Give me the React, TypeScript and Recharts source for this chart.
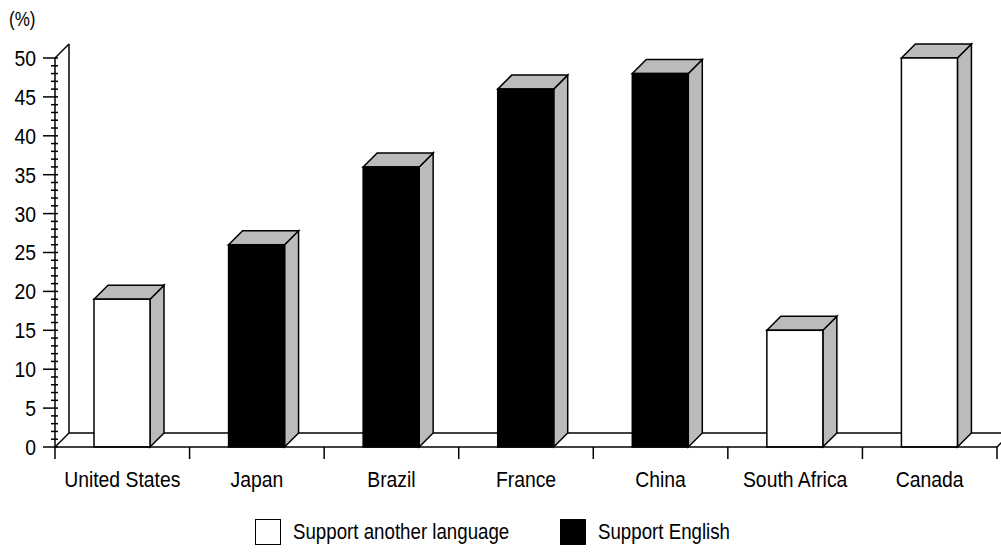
import React from 'react';
import { BarChart, Bar, XAxis, YAxis, Legend } from 'recharts';

const countries = ['United States', 'Japan', 'Brazil', 'France', 'China', 'South Africa', 'Canada'];
const values = [19, 26, 36, 46, 48, 15, 50];
const groups = ['another', 'english', 'english', 'english', 'english', 'another', 'another'];
const seriesNames = ['Support another language', 'Support English'];
const majorTicks = [0, 5, 10, 15, 20, 25, 30, 35, 40, 45, 50];
const allTicks = Array.from({ length: 51 }, (_, i) => i);

const data = countries.map((country, i) => ({ country, value: values[i], group: groups[i] }));

const W = 1001;
const H = 559;
const M = { top: 58, right: 4, left: 0, bottom: 7 };
const Y_W = 55;
const X_H = 65;
const LEG_H = 40;
const PL = M.left + Y_W;
const PR = W - M.right;
const PT = M.top;
const PB = H - M.bottom - LEG_H - X_H;
const D = 14;
const GRAY = '#bbbbbb';
const FONT = '"Liberation Sans", Arial, Helvetica, sans-serif';
const FS = 22;
const SX = 0.88; // condensed look

const Bar3D = (props: any) => {
  const { x, y, width: w, height: h, payload } = props;
  if (!h) return null;
  const fill = payload.group === 'english' ? '#000' : '#fff';
  return (
    <g stroke="#000" strokeWidth={1.5} strokeLinejoin="miter">
      <polygon
        points={`${x + w},${y} ${x + w + D},${y - D} ${x + w + D},${y + h - D} ${x + w},${y + h}`}
        fill={GRAY}
      />
      <polygon points={`${x},${y} ${x + D},${y - D} ${x + w + D},${y - D} ${x + w},${y}`} fill={GRAY} />
      <rect x={x} y={y} width={w} height={h} fill={fill} />
    </g>
  );
};

const YTick = (props: any) => {
  const { y, payload } = props;
  const major = majorTicks.includes(payload.value);
  return (
    <g>
      <line x1={major ? PL - 12 : PL - 4} x2={PL + 3} y1={y} y2={y} stroke="#000" strokeWidth={1.5} />
      {major && (
        <text
          transform={`translate(${PL - 19},${y}) scale(${SX},1)`}
          dy="0.36em"
          textAnchor="end"
          fontSize={FS}
          fontFamily={FONT}
          fill="#000"
        >
          {payload.value}
        </text>
      )}
    </g>
  );
};

const XTick = (props: any) => {
  const { x, payload, index } = props;
  const bw = (PR - PL) / countries.length;
  return (
    <g>
      <line x1={x - bw / 2} x2={x - bw / 2} y1={PB} y2={PB + 12} stroke="#000" strokeWidth={1.5} />
      {index === countries.length - 1 && (
        <line x1={x + bw / 2} x2={x + bw / 2} y1={PB} y2={PB + 12} stroke="#000" strokeWidth={1.5} />
      )}
      <text
        transform={`translate(${x},${PB + 40}) scale(${SX},1)`}
        textAnchor="middle"
        fontSize={FS}
        fontFamily={FONT}
        fill="#000"
      >
        {payload.value}
      </text>
    </g>
  );
};

const LegendBox = () => (
  <div
    style={{
      height: LEG_H,
      width: W,
      display: 'flex',
      alignItems: 'center',
      fontFamily: FONT,
      fontSize: FS,
      color: '#000',
    }}
  >
    {seriesNames.map((name, i) => (
      <div
        key={name}
        style={{ display: 'flex', alignItems: 'center', position: 'absolute', left: i === 0 ? 255 : 560 }}
      >
        <span
          style={{
            display: 'inline-block',
            width: 26,
            height: 26,
            boxSizing: 'border-box',
            border: '1.5px solid #000',
            background: i === 0 ? '#fff' : '#000',
            marginRight: 12,
          }}
        />
        <span
          style={{
            display: 'inline-block',
            whiteSpace: 'nowrap',
            transform: 'scaleX(0.85)',
            transformOrigin: 'left center',
          }}
        >
          {name}
        </span>
      </div>
    ))}
  </div>
);

const App = () => {
  return (
    <div style={{ position: 'absolute', left: 0, top: 0, background: '#fff' }}>
      <BarChart width={W} height={H} data={data} margin={M} barSize={56}>
        <g stroke="#000" strokeWidth={1.5} fill="none">
          <line x1={PL + D} y1={PT - D} x2={PL + D} y2={PB - D} />
          <line x1={PL} y1={PT} x2={PL + D} y2={PT - D} />
          <line x1={PL} y1={PB} x2={PL + D} y2={PB - D} />
          <line x1={PL + D} y1={PB - D} x2={PR + D} y2={PB - D} />
          <line x1={PR} y1={PB} x2={PR + D} y2={PB - D} />
        </g>
        <text transform="translate(9,26) scale(0.85,1)" fontSize={20} fontFamily={FONT} fill="#000">
          (%)
        </text>
        <XAxis
          dataKey="country"
          height={X_H}
          interval={0}
          tickLine={false}
          axisLine={{ stroke: '#000', strokeWidth: 1.5 }}
          tick={<XTick />}
        />
        <YAxis
          type="number"
          domain={[0, 50]}
          ticks={allTicks}
          interval={0}
          width={Y_W}
          tickLine={false}
          axisLine={{ stroke: '#000', strokeWidth: 1.5 }}
          tick={<YTick />}
        />
        <Legend verticalAlign="bottom" height={LEG_H} content={<LegendBox />} />
        <Bar dataKey="value" name="Share" shape={<Bar3D />} isAnimationActive={false} />
      </BarChart>
    </div>
  );
};

export default App;
